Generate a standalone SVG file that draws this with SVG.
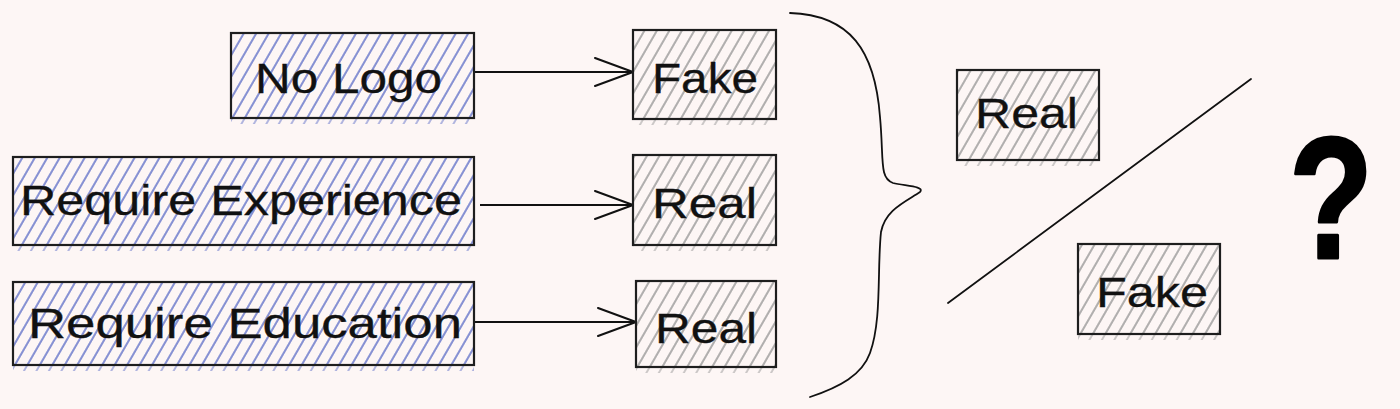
<svg xmlns="http://www.w3.org/2000/svg" width="1400" height="409" viewBox="0 0 1400 409">
<style>
.box{stroke:#1e1e1e;stroke-width:2.2;}
.lbl{font-family:"Liberation Sans",Arial,sans-serif;font-size:42px;fill:#111;stroke:#111;stroke-width:0.3;}
.conn{stroke:#111;stroke-width:1.8;fill:none;}
</style>
<defs>
<pattern id="hb" width="10.8" height="10" patternUnits="userSpaceOnUse" patternTransform="rotate(30)">
<line x1="1" y1="0" x2="1" y2="10" stroke="#5566c4" stroke-width="0.9"/>
</pattern>
<pattern id="hg" width="10.8" height="10" patternUnits="userSpaceOnUse" patternTransform="rotate(30)">
<line x1="1" y1="0" x2="1" y2="10" stroke="#8f8f8f" stroke-width="0.9"/>
</pattern>
<marker id="ah" viewBox="0 0 40 30" refX="39" refY="15" markerWidth="40" markerHeight="30" markerUnits="userSpaceOnUse" orient="auto">
<path d="M1,1 L39,15 L1,29" fill="none" stroke="#111" stroke-width="2" stroke-linecap="round" stroke-linejoin="round"/>
</marker>
</defs>
<rect width="1400" height="409" fill="#fdf6f5"/>

<g id="connectors">
<line class="conn" x1="475" y1="72" x2="633" y2="72" marker-end="url(#ah)"/>
<line class="conn" x1="480" y1="205" x2="633" y2="205" marker-end="url(#ah)"/>
<line class="conn" x1="475" y1="322" x2="636" y2="322" marker-end="url(#ah)"/>
</g>

<g id="no-logo">
<rect x="231" y="33" width="243" height="91" fill="url(#hb)"/>
<rect class="box" x="231" y="33" width="243" height="85" fill="url(#hb)"/>
<text class="lbl" x="255" y="93" textLength="187" lengthAdjust="spacingAndGlyphs">No Logo</text>
</g>
<g id="fake-1">
<rect x="633" y="30" width="143" height="95" fill="url(#hg)"/>
<rect class="box" x="633" y="30" width="143" height="89" fill="url(#hg)"/>
<text class="lbl" x="652" y="93" textLength="106" lengthAdjust="spacingAndGlyphs">Fake</text>
</g>

<g id="require-experience">
<rect x="13" y="157" width="461" height="94" fill="url(#hb)"/>
<rect class="box" x="13" y="157" width="461" height="88" fill="url(#hb)"/>
<text class="lbl" x="20" y="215" textLength="442" lengthAdjust="spacingAndGlyphs">Require Experience</text>
</g>
<g id="real-1">
<rect x="633" y="155" width="143" height="96" fill="url(#hg)"/>
<rect class="box" x="633" y="155" width="143" height="90" fill="url(#hg)"/>
<text class="lbl" x="652" y="218" textLength="105" lengthAdjust="spacingAndGlyphs">Real</text>
</g>

<g id="require-education">
<rect x="13" y="282" width="461" height="89" fill="url(#hb)"/>
<rect class="box" x="13" y="282" width="461" height="83" fill="url(#hb)"/>
<text class="lbl" x="28" y="338" textLength="434" lengthAdjust="spacingAndGlyphs">Require Education</text>
</g>
<g id="real-2">
<rect x="636" y="281" width="140" height="92" fill="url(#hg)"/>
<rect class="box" x="636" y="281" width="140" height="86" fill="url(#hg)"/>
<text class="lbl" x="655" y="343" textLength="102" lengthAdjust="spacingAndGlyphs">Real</text>
</g>

<g id="brace">
<path class="conn" stroke-width="2.6" stroke-linecap="round" d="M790,13 C850,15 875,50 880,117 C884,160 879,178 893,183 C905,186 925,186 920,192 C905,202 885,210 881,232 C877,270 882,320 870,353 C862,375 840,387 810,397"/>
</g>

<g id="real-right">
<rect x="957" y="70" width="142" height="96" fill="url(#hg)"/>
<rect class="box" x="957" y="70" width="142" height="90" fill="url(#hg)"/>
<text class="lbl" x="975" y="128" textLength="103" lengthAdjust="spacingAndGlyphs">Real</text>
</g>

<g id="divider">
<line class="conn" stroke-width="2.2" stroke-linecap="round" x1="948" y1="303" x2="1251" y2="79"/>
</g>

<g id="fake-right">
<rect x="1078" y="244" width="142" height="96" fill="url(#hg)"/>
<rect class="box" x="1078" y="244" width="142" height="90" fill="url(#hg)"/>
<text class="lbl" x="1096" y="307" textLength="112" lengthAdjust="spacingAndGlyphs">Fake</text>
</g>

<g id="question">
<text x="1331" y="258" text-anchor="middle" font-family="'Liberation Sans',Arial,sans-serif" font-weight="bold" font-size="172" fill="#000" stroke="#000" stroke-width="3" stroke-linejoin="round" transform="translate(1331,0) scale(0.8,1) translate(-1331,0)">?</text>
</g>
</svg>
